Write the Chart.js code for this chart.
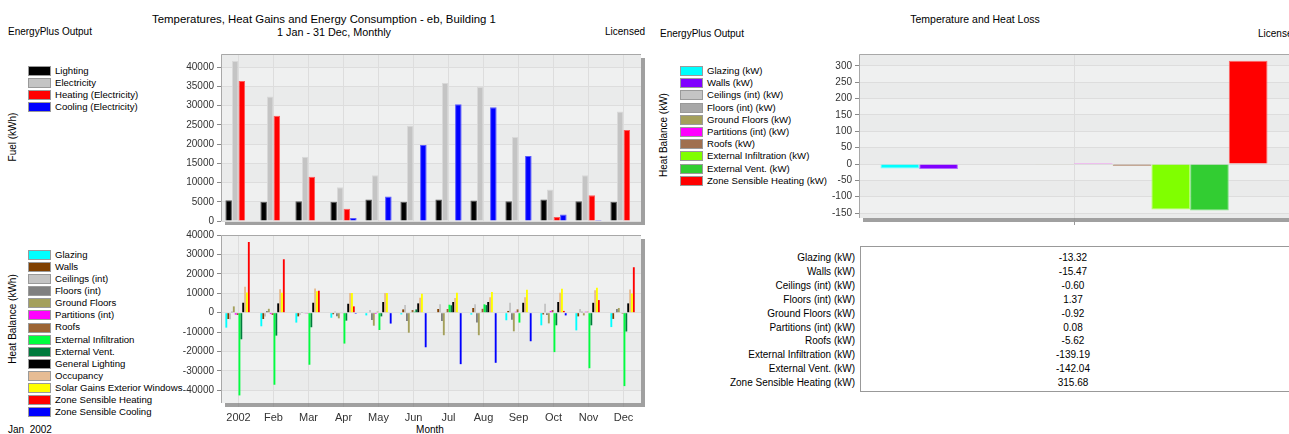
<!DOCTYPE html>
<html>
<head>
<meta charset="utf-8">
<script src="https://cdn.jsdelivr.net/npm/chart.js@4.4.1/dist/chart.umd.min.js"></script>
<style>
  body { margin: 0; width: 1289px; height: 434px; overflow: hidden; background: #fff; position: relative;
         font-family: "Liberation Sans", Arial, sans-serif; color: #000; }
  .t { position: absolute; white-space: nowrap; font-size: 10px; line-height: 12px; }
  canvas { position: absolute; }
  .leg { position: absolute; font-size: 9.6px; }
  .leg div { position: relative; padding-left: 27px; white-space: nowrap; }
  .leg span { position: absolute; left: 0; width: 21px; height: 8px; border: 1px solid #9a9a9a; box-sizing: content-box; }
  .rot { position: absolute; transform: translate(-50%, -50%) rotate(-90deg); white-space: nowrap; font-size: 10px; }
  .tbl { position: absolute; font-size: 10px; }
</style>
</head>
<body>
<div class="t" style="left:0;width:648px;top:12px;text-align:center;font-size:11.4px;line-height:14px">Temperatures, Heat Gains and Energy Consumption - eb, Building 1</div>
<div class="t" style="left:234px;width:200px;top:26px;text-align:center;font-size:10.8px">1 Jan - 31 Dec, Monthly</div>
<div class="t" style="left:8px;top:26px">EnergyPlus Output</div>
<div class="t" style="left:545px;width:100px;top:26px;text-align:right">Licensed</div>

<div class="t" style="left:875px;width:200px;top:13px;text-align:center;font-size:10.5px">Temperature and Heat Loss</div>
<div class="t" style="left:660px;top:28px">EnergyPlus Output</div>
<div class="t" style="left:1258px;top:28px">Licensed</div>

<div class="rot" style="left:12px;top:137px">Fuel (kWh)</div>
<div class="rot" style="left:12px;top:319px">Heat Balance (kWh)</div>
<div class="rot" style="left:663px;top:135px">Heat Balance (kW)</div>
<div class="t" style="left:380px;width:100px;top:424px;text-align:center">Month</div>
<div class="t" style="left:8px;top:424px">Jan&nbsp; 2002</div>

<div class="leg" id="legFuel" style="left:28px;top:65px"></div>
<div class="leg" id="legBal" style="left:28px;top:249px"></div>
<div class="leg" id="legLoss" style="left:680px;top:65px"></div>

<canvas id="fuel" width="480" height="190" style="left:170px;top:45px"></canvas>
<canvas id="balance" width="480" height="200" style="left:170px;top:225px"></canvas>
<canvas id="loss" width="479" height="185" style="left:810px;top:45px"></canvas>

<div id="table" class="tbl" style="left:0;top:0"></div>

<script>
const months = ['2002', 'Feb', 'Mar', 'Apr', 'May', 'Jun', 'Jul', 'Aug', 'Sep', 'Oct', 'Nov', 'Dec'];

// fuel use, kWh per month
const fuelNames = ['Lighting', 'Electricity', 'Heating (Electricity)', 'Cooling (Electricity)'];
const fuelColors = ['#000000', '#c4c4c4', '#ff0000', '#0000ff'];
const fuelLighting = [5420, 4990, 5160, 4990, 5590, 4990, 5590, 5330, 5160, 5590, 5160, 4990];
const fuelElectricity = [41550, 32340, 16690, 8770, 11870, 24770, 35870, 34840, 21850, 8170, 11870, 28470];
const fuelHeating = [36390, 27350, 11530, 3180, 170, 0, 0, 0, 0, 1030, 6710, 23660];
const fuelCooling = [0, 0, 0, 770, 6370, 19780, 30370, 29590, 16860, 1720, 260, 0];
const fuelTicks = [0, 5000, 10000, 15000, 20000, 25000, 30000, 35000, 40000];

// heat balance, kWh per month
const balNames = ['Glazing', 'Walls', 'Ceilings (int)', 'Floors (int)', 'Ground Floors', 'Partitions (int)', 'Roofs',
  'External Infiltration', 'External Vent.', 'General Lighting', 'Occupancy', 'Solar Gains Exterior Windows',
  'Zone Sensible Heating', 'Zone Sensible Cooling'];
const balColors = ['#00ffff', '#804000', '#c4c4c4', '#808080', '#a4a05c', '#ff00ff', '#9c6434', '#00ff40',
  '#007a3d', '#000000', '#e6bc94', '#ffff00', '#ff0000', '#0000ff'];
const balGlazing = [-7700, -7000, -5100, -2600, -1400, -900, 0, -1000, -3900, -6500, -9100, -7400];
const balWalls = [-3250, -3250, -1900, -800, 0, 1700, 1900, 2400, 900, -900, -1900, -3200];
const balCeilings = [-3400, -2000, -1000, 600, 1400, 3900, 4400, 4400, 5100, 4600, 1900, 0];
const balFloors = [500, 900, 300, -1800, -3800, -4300, -4300, -5000, -3600, -1200, 500, 1900];
const balGround = [3250, 2000, -300, -2900, -6700, -10300, -11600, -11600, -9600, -5500, -1400, 2400];
const balPartitions = [-1000, -700, -400, -300, -600, 0, 0, 0, 500, 900, 500, 0];
const balRoofs = [-1200, -1200, -400, -300, 500, 1400, 1900, 2000, 1700, 1400, 500, -500];
const balInfiltration = [-42600, -37100, -26800, -15900, -8900, 500, 4100, 4300, -5100, -20300, -28600, -37800];
const balVent = [-13700, -11800, -7500, -4100, -1900, 1700, 3800, 3900, 0, -6500, -6500, -9700];
const balLighting = [5130, 4800, 5130, 4600, 5500, 4800, 5500, 5500, 5100, 5500, 5100, 4800];
const balOccupancy = [13300, 12100, 12500, 10100, 10100, 7700, 7500, 8000, 8000, 10300, 11500, 12000];
const balSolar = [10400, 10300, 11100, 10100, 10100, 9700, 10300, 10600, 11800, 12300, 12800, 9900];
const balHeating = [36400, 27500, 11300, 3250, 0, 0, 0, 0, 0, 900, 6500, 23400];
const balCooling = [0, 0, 0, -500, -5600, -17800, -26500, -25800, -14700, -1400, 0, 0];
const balTicks = [-40000, -30000, -20000, -10000, 0, 10000, 20000, 30000, 40000];

// temperature and heat loss, kW
const lossNames = ['Glazing (kW)', 'Walls (kW)', 'Ceilings (int) (kW)', 'Floors (int) (kW)', 'Ground Floors (kW)',
  'Partitions (int) (kW)', 'Roofs (kW)', 'External Infiltration (kW)', 'External Vent. (kW)', 'Zone Sensible Heating (kW)'];
const lossColors = ['#00ffff', '#8000ff', '#c4c4c4', '#a8a8a8', '#a4a05c', '#ff00ff', '#a0704f', '#80ff00', '#32cd32', '#ff0000'];
const lossValues = [-13.32, -15.47, -0.60, 1.37, -0.92, 0.08, -5.62, -139.19, -142.04, 315.68];
const lossTicks = [-150, -100, -50, 0, 50, 100, 150, 200, 250, 300];

Chart.defaults.font.family = '"Liberation Sans", Arial, sans-serif';
Chart.defaults.font.size = 10;
Chart.defaults.color = '#333';

function legend(id, names, colors, rowH) {
  const el = document.getElementById(id);
  names.forEach((n, i) => {
    const d = document.createElement('div');
    d.style.height = rowH + 'px';
    d.style.lineHeight = rowH + 'px';
    d.innerHTML = `<span style="background:${colors[i]};top:${(rowH - 10) / 2}px"></span>${n}`;
    el.appendChild(d);
  });
}
legend('legFuel', fuelNames, fuelColors, 12);
legend('legBal', balNames, balColors, 12.08);
legend('legLoss', lossNames, lossColors, 12.2);

// table under the loss chart
const tbl = document.getElementById('table');
let html = '<div style="position:absolute;left:860px;top:246px;width:440px;height:144px;border-top:1px solid #999;border-left:1px solid #999;border-bottom:1px solid #999"></div>';
lossNames.forEach((n, i) => {
  const top = 251 + i * 13.9;
  html += `<div style="position:absolute;left:650px;width:205px;text-align:right;top:${top}px;line-height:14px;white-space:nowrap">${n}</div>`;
  html += `<div style="position:absolute;left:973px;width:200px;text-align:center;top:${top}px;line-height:14px">${lossValues[i].toFixed(2)}</div>`;
});
tbl.innerHTML = html;

const framePlugin = {
  id: 'frame',
  beforeDraw(chart) {
    const { ctx, chartArea: a } = chart;
    const w = a.right - a.left, h = a.bottom - a.top;
    ctx.save();
    ctx.fillStyle = '#a0a0a0';
    ctx.fillRect(a.left + 4, a.top + 4, w, h);
    ctx.fillStyle = '#eff0f0';
    ctx.fillRect(a.left, a.top, w, h);
    const ys = chart.scales.y;
    const px = [a.top].concat(ys.ticks.map(t => ys.getPixelForValue(t.value)).sort((p, q) => p - q)).concat([a.bottom]);
    ctx.fillStyle = '#eaebeb';
    for (let i = 0; i < px.length - 1; i += 2) ctx.fillRect(a.left, px[i], w, px[i + 1] - px[i]);
    ctx.restore();
  },
  afterDraw(chart) {
    const { ctx, chartArea: a } = chart;
    ctx.save();
    ctx.strokeStyle = '#a8a8a8';
    ctx.lineWidth = 1;
    ctx.beginPath();
    ctx.moveTo(a.left + 0.5, a.bottom);
    ctx.lineTo(a.left + 0.5, a.top + 0.5);
    ctx.lineTo(a.right, a.top + 0.5);
    ctx.stroke();
    ctx.restore();
  }
};

function lighten(hex, k) {
  const n = parseInt(hex.slice(1), 16);
  const c = [n >> 16, (n >> 8) & 255, n & 255].map(v => Math.round(v + (255 - v) * k));
  return `rgb(${c[0]},${c[1]},${c[2]})`;
}

function makeChart(id, labels, datasets, y, layoutPad, xAxis, catPct) {
  return new Chart(document.getElementById(id), {
    type: 'bar',
    data: { labels: labels, datasets: datasets },
    options: {
      responsive: false,
      animation: false,
      layout: { padding: layoutPad },
      plugins: { legend: { display: false }, tooltip: { enabled: false } },
      datasets: { bar: { categoryPercentage: catPct, barPercentage: 1 } },
      scales: {
        x: Object.assign({
          grid: { offset: false, color: '#dddddd', drawTicks: false },
          border: { display: false }
        }, xAxis),
        y: {
          min: y.min, max: y.max,
          afterFit: s => { s.width = y.width; },
          afterBuildTicks: s => { s.ticks = y.ticks.map(v => ({ value: v })); },
          ticks: { padding: 3, callback: v => String(v) },
          grid: { color: '#dddddd', tickColor: '#888', tickLength: 4 },
          border: { display: false }
        }
      }
    },
    plugins: [framePlugin]
  });
}

const fuelSeries = [fuelLighting, fuelElectricity, fuelHeating, fuelCooling];
makeChart('fuel', months,
  fuelSeries.map((d, i) => ({ label: fuelNames[i], data: d, backgroundColor: fuelColors[i],
    borderColor: lighten(fuelColors[i], 0.35), borderWidth: 1 })),
  { min: 0, max: 43400, ticks: fuelTicks, width: 51 },
  { left: 0, right: 9, top: 8, bottom: 14 },
  { ticks: { display: false }, afterFit: s => { s.height = 0; } },
  0.75);

const balSeries = [balGlazing, balWalls, balCeilings, balFloors, balGround, balPartitions, balRoofs,
  balInfiltration, balVent, balLighting, balOccupancy, balSolar, balHeating, balCooling];
makeChart('balance', months,
  balSeries.map((d, i) => ({ label: balNames[i], data: d, backgroundColor: balColors[i], borderWidth: 0 })),
  { min: -46500, max: 40000, ticks: balTicks, width: 51 },
  { left: 0, right: 9, top: 10, bottom: 0 },
  { ticks: { padding: 4, font: { size: 11 }, color: '#333', maxRotation: 0 },
    grid: { offset: false, color: '#dddddd', drawTicks: true, tickLength: 4, tickColor: '#999' },
    afterFit: s => { s.height = 22; } },
  0.75);

makeChart('loss', [''],
  lossValues.map((v, i) => ({ label: lossNames[i], data: [v], backgroundColor: lossColors[i],
    borderColor: lighten(lossColors[i], 0.4), borderWidth: 1 })),
  { min: -165, max: 336.5, ticks: lossTicks, width: 49 },
  { left: 0, right: 0, top: 8, bottom: 4 },
  { ticks: { display: false },
    grid: { offset: false, color: '#dddddd', drawTicks: true, tickLength: 7, tickColor: '#999' },
    afterFit: s => { s.height = 8; } },
  0.9);
</script>
</body>
</html>
